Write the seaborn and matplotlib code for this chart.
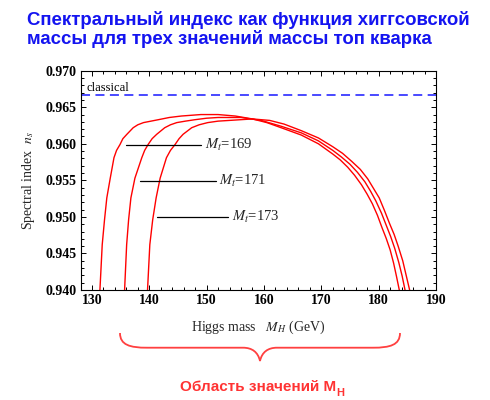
import pandas as pd
import seaborn as sns
import matplotlib.pyplot as plt
from matplotlib.path import Path
from matplotlib.patches import PathPatch
from matplotlib.ticker import MultipleLocator

# spectral index n_s vs Higgs mass
mh_169 = [131.4, 131.8, 132.2, 132.6, 133.2, 133.85, 134.3, 134.9, 135.4, 136.1, 137.2, 138.0,
          139.0, 141.6, 143.5, 145.6, 149.0, 152.0, 155.0, 158.0, 160.5, 163.0, 166.5, 169.5,
          172.0, 173.3, 174.6, 175.8, 177.0, 178.0, 178.9, 179.8, 180.6, 181.3, 182.0, 182.6,
          183.1, 183.6]
ns_169 = [0.9400, 0.9462, 0.9496, 0.9526, 0.9553, 0.9581, 0.9591, 0.9599, 0.9607, 0.9613, 0.9622, 0.9626,
          0.9629, 0.9633, 0.9636, 0.9638, 0.9640, 0.9640, 0.9638, 0.9634, 0.9629, 0.9622, 0.9612, 0.9600,
          0.9586, 0.9578, 0.9568, 0.9557, 0.9544, 0.9531, 0.9518, 0.9502, 0.9485, 0.9471, 0.9455, 0.9437,
          0.9419, 0.9400]

mh_171 = [135.7, 136.06, 136.4, 136.8, 137.5, 138.7, 139.2, 139.8, 140.5, 141.3, 142.7, 143.7,
          144.8, 146.3, 148.0, 150.0, 152.0, 156.0, 159.5, 163.0, 166.5, 169.5, 172.0, 173.5,
          175.0, 176.3, 177.6, 178.6, 179.5, 180.5, 181.4, 182.1, 182.8, 183.5, 184.1, 184.6]
ns_171 = [0.9400, 0.9462, 0.9496, 0.9526, 0.9553, 0.9581, 0.9591, 0.9599, 0.9607, 0.9613, 0.9622, 0.9626,
          0.9629, 0.9631, 0.9633, 0.9635, 0.9636, 0.9636, 0.9632, 0.9624, 0.9615, 0.9604, 0.9591, 0.9582,
          0.9572, 0.9561, 0.9548, 0.9535, 0.9522, 0.9505, 0.9487, 0.9473, 0.9457, 0.9438, 0.9419, 0.9400]

mh_173 = [139.7, 140.1, 140.6, 141.2, 141.9, 143.0, 143.7, 144.5, 145.2, 145.9, 147.4, 148.7,
          150.2, 152.0, 154.0, 158.0, 161.0, 163.5, 166.5, 169.5, 172.0, 173.7, 175.3, 176.8,
          178.1, 179.1, 180.1, 181.0, 181.9, 182.7, 183.4, 184.2, 184.8, 185.4]
ns_173 = [0.9400, 0.9462, 0.9496, 0.9526, 0.9553, 0.9581, 0.9591, 0.9599, 0.9607, 0.9613, 0.9622, 0.9626,
          0.9629, 0.9631, 0.9632, 0.9634, 0.9632, 0.9627, 0.9618, 0.9608, 0.9596, 0.9587, 0.9576, 0.9565,
          0.9552, 0.9539, 0.9526, 0.9509, 0.9491, 0.9476, 0.9460, 0.9440, 0.9420, 0.9400]

ns_classical = 0.9667
top_masses = ["169", "171", "173"]
label_ns = [0.9599, 0.95495, 0.94995]

frames = []
for mt, mh, ns in zip(top_masses, [mh_169, mh_171, mh_173], [ns_169, ns_171, ns_173]):
    frames.append(pd.DataFrame({"mh": mh, "ns": ns, "mt": mt}))
df = pd.concat(frames, ignore_index=True)

sns.set_theme(style="ticks")
plt.rcParams['font.family'] = ['Liberation Serif', 'DejaVu Serif']
plt.rcParams['mathtext.fontset'] = 'stix'

fig = plt.figure(figsize=(4.9, 4.0), dpi=100)
ax = fig.add_axes([81 / 490, 1 - 290 / 400, (436 - 81) / 490, (290 - 70.7) / 400])

sns.lineplot(data=df, x="mh", y="ns", hue="mt", palette=["#ff0000"] * 3, estimator=None,
             sort=False, legend=False, linewidth=1.0, ax=ax)
ax.axhline(ns_classical, color="#3a3aff", linestyle=(0, (5, 3)), linewidth=1.3)
ax.text(129.0, 0.9677, "classical", fontsize=9, color="black", ha="left", va="center")

# pointer lines to the curves
starts = [135.9, 138.4, 141.4]
ends = [149.1, 151.6, 153.8]
for mt, y, x0, x1 in zip(top_masses, label_ns, starts, ends):
    ax.plot([x0, x1], [y, y], color="black", linewidth=0.9)
    ax.text(x1 + 0.6, y, "$M_t$=" + mt, fontsize=10.5, ha="left", va="center")

ax.set_xlim(128.1, 190)
ax.set_ylim(0.940, 0.970)
ax.xaxis.set_major_locator(MultipleLocator(10))
ax.xaxis.set_minor_locator(MultipleLocator(2))
ax.yaxis.set_major_locator(MultipleLocator(0.005))
ax.yaxis.set_minor_locator(MultipleLocator(0.001))
ax.yaxis.set_major_formatter(plt.FuncFormatter(lambda v, p: f"{v:.3f}"))
ax.tick_params(which="both", direction="in", top=True, right=True, width=0.7,
               labelsize=10, colors="black", pad=3)
ax.tick_params(which="major", length=3.5)
ax.tick_params(which="minor", length=2)
for lab in ax.get_xticklabels() + ax.get_yticklabels():
    lab.set_fontweight("bold")
for s in ax.spines.values():
    s.set_linewidth(0.8)
    s.set_color("black")
ax.set_xlabel("Higgs mass   $M_H$ (GeV)", fontsize=10, labelpad=8)
ax.set_ylabel("Spectral index  $n_s$", fontsize=10, labelpad=6)

sans = ["Liberation Sans", "DejaVu Sans"]
title_lines = ["Спектральный индекс как функция хиггсовской",
               "массы для трех значений массы топ кварка"]
for line, base in zip(title_lines, [25.0, 44.0]):
    fig.text(27 / 490, 1 - base / 400, line, fontsize=13.4, fontweight="bold", color="#1414f0",
             family=sans, ha="left", va="baseline")


def px(x, y):
    return (x / 490, 1 - y / 400)


verts = [px(120, 333), px(120, 345), px(130, 347.7), px(147, 347.7),
         px(243, 347.7),
         px(252, 347.7), px(258, 352), px(260, 361),
         px(262, 352), px(268, 347.7), px(277, 347.7),
         px(373, 347.7),
         px(390, 347.7), px(400, 345), px(400, 333)]
codes = [Path.MOVETO, Path.CURVE4, Path.CURVE4, Path.CURVE4,
         Path.LINETO,
         Path.CURVE4, Path.CURVE4, Path.CURVE4,
         Path.CURVE4, Path.CURVE4, Path.CURVE4,
         Path.LINETO,
         Path.CURVE4, Path.CURVE4, Path.CURVE4]
fig.patches.append(PathPatch(Path(verts, codes), transform=fig.transFigure, facecolor="none",
                             edgecolor="#ff4040", linewidth=1.3))

t = fig.text(*px(258, 387), "Область значений M", fontsize=11, fontweight="bold", color="#ff3333",
             family=sans, ha="center", va="center")
fig.canvas.draw()
bb = t.get_window_extent().transformed(fig.transFigure.inverted())
fig.text(bb.x1 + 0.001, bb.y0 + 0.002, "H", fontsize=8, fontweight="bold", color="#ff3333",
         family=sans, ha="left", va="center")

fig.savefig("out.png", dpi=100)
